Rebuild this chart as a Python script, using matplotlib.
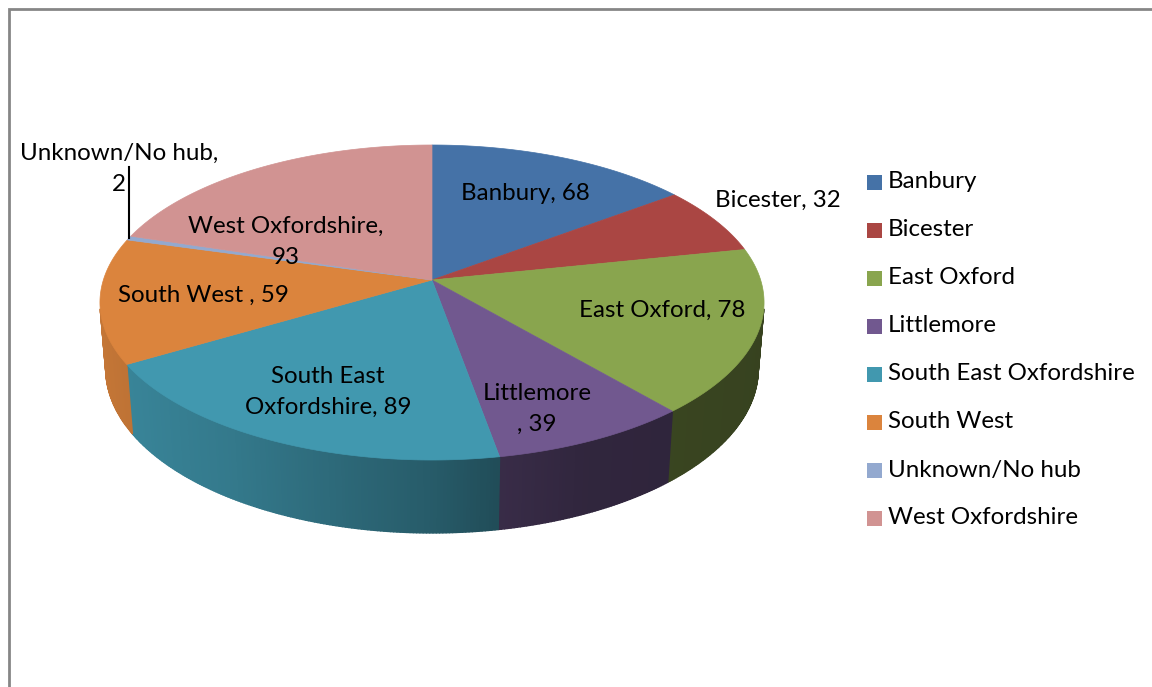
import numpy as np
import matplotlib
matplotlib.use('Agg')
import matplotlib.pyplot as plt
from matplotlib.patches import Polygon, Rectangle
from matplotlib.collections import PolyCollection
from matplotlib.colors import to_rgb

# data
hubs = ['Banbury', 'Bicester', 'East Oxford', 'Littlemore', 'South East Oxfordshire',
        'South West', 'Unknown/No hub', 'West Oxfordshire']
counts = [68, 32, 78, 39, 89, 59, 2, 93]
label_text = ['Banbury, 68', 'Bicester, 32', 'East Oxford, 78', 'Littlemore\n, 39',
              'South East\nOxfordshire, 89', 'South West , 59', 'Unknown/No hub,\n2',
              'West Oxfordshire,\n93']
colors = ['#4572A7', '#AA4643', '#89A54E', '#71588F', '#4198AF', '#DB843D', '#93A9CF', '#D19392']

# label placement (pixels)
label_pos = [(525, 194), (778, 200), (662, 310), (537, 409), (328, 392), (203, 295),
             (119, 169), (286, 242)]

plt.rcParams['font.family'] = ['Lato', 'DejaVu Sans']
FS = 17.4

# perspective of the 3d pie
cx, cy = 432, 280
f = 2031.0
elev = np.radians(28)
ce, se = np.cos(elev), np.sin(elev)
dist = 6.18
thick = 0.2307


def proj(theta, y=0.0, r=1.0):
    t = np.radians(theta)
    X = r * np.sin(t)
    Z = r * np.cos(t)
    yv = y * ce + Z * se
    zv = dist + Z * ce - y * se
    return cx + f * X / zv, cy - f * yv / zv


def shade(theta):
    s = np.sin(np.radians(theta))
    return np.interp(s, [-1, -0.55, 0, 0.18, 0.4, 1], [0.9, 0.8, 0.6, 0.5, 0.43, 0.40])


fig = plt.figure(figsize=(11.52, 6.87), dpi=100)
ax = fig.add_axes([0, 0, 1, 1])
ax.set_xlim(0, 1152)
ax.set_ylim(687, 0)
ax.axis('off')

# chart frame
ax.plot([9, 9, 1160], [700, 9, 9], color='#868686', lw=2, solid_joinstyle='miter')

angles = np.concatenate([[0], np.cumsum(counts)]) / sum(counts) * 360.0
phi = np.degrees(np.arccos(1 / (dist * ce)))
vis0, vis1 = 180 - phi, 180 + phi

# side wall
strips, strip_cols = [], []
for i in range(len(counts)):
    a0, a1 = max(angles[i], vis0), min(angles[i + 1], vis1)
    if a1 <= a0:
        continue
    n = max(2, int((a1 - a0) / 0.5))
    tt = np.linspace(a0, a1, n + 1)
    base = np.array(to_rgb(colors[i]))
    for k in range(n):
        p1 = proj(tt[k]); p2 = proj(tt[k + 1])
        p3 = proj(tt[k + 1], -thick); p4 = proj(tt[k], -thick)
        strips.append([p1, p2, p3, p4])
        strip_cols.append(base * shade((tt[k] + tt[k + 1]) / 2))
ax.add_collection(PolyCollection(strips, facecolors=strip_cols, edgecolors=strip_cols, linewidths=1.0))

# top face
for i in range(len(counts)):
    tt = np.linspace(angles[i], angles[i + 1], max(3, int(angles[i + 1] - angles[i]) * 2))
    xs, ys = proj(tt)
    pts = [(cx, cy)] + list(zip(xs, ys))
    ax.add_patch(Polygon(pts, closed=True, facecolor=colors[i], edgecolor=colors[i], lw=0.5))

# data labels
for i, txt in enumerate(label_text):
    ax.text(label_pos[i][0], label_pos[i][1], txt, fontsize=FS, ha='center', va='center',
            linespacing=1.6, color='black')

# leader line for the tiny slice
mid = (angles[6] + angles[7]) / 2
lx, ly = proj(mid)
ax.plot([lx, lx], [167, ly], color='black', lw=1.5)

# legend
for i, name in enumerate(hubs):
    y = 182 + 48 * i
    ax.add_patch(Rectangle((867, y - 7.5), 15, 15, facecolor=colors[i], edgecolor='none'))
    ax.text(888, y, name, fontsize=FS, ha='left', va='center', color='black')

fig.savefig('out.png', dpi=100)
